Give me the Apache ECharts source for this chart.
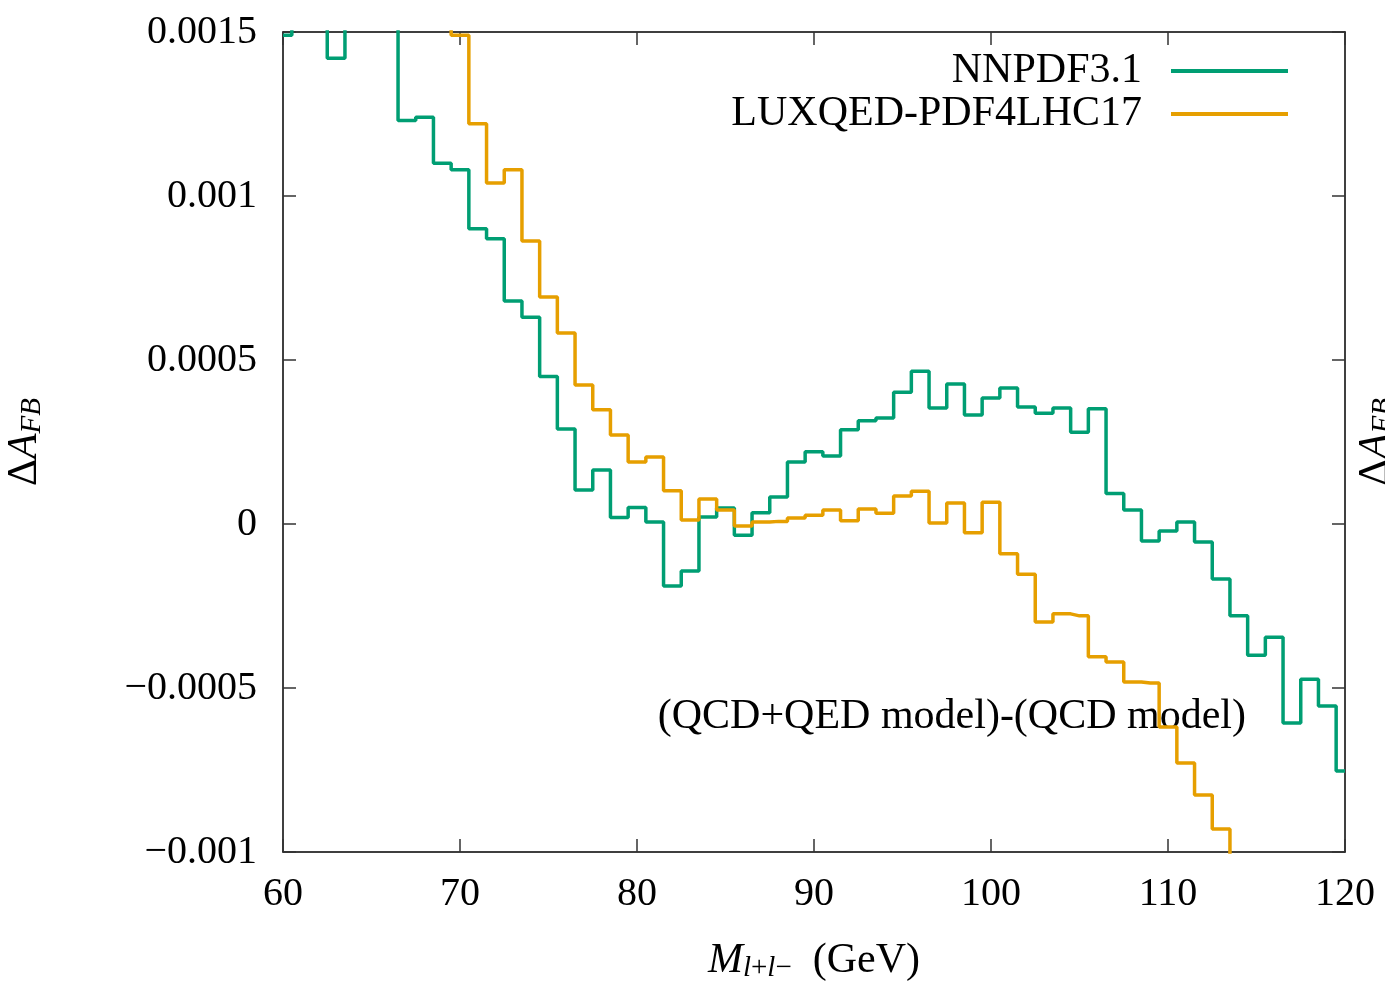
<!DOCTYPE html>
<html>
<head>
<meta charset="utf-8">
<script src="https://cdn.jsdelivr.net/npm/echarts@6/dist/echarts.min.js"></script>
<style>
html,body{margin:0;padding:0;background:#fff;}
#c{width:1385px;height:982px;}
</style>
</head>
<body>
<div id="c"></div>
<script>
// Bin centres (GeV), 1 GeV bins
const masses = [60,61,62,63,64,65,66,67,68,69,70,71,72,73,74,75,76,77,78,79,80,81,82,83,84,85,86,87,88,89,90,91,92,93,94,95,96,97,98,99,100,101,102,103,104,105,106,107,108,109,110,111,112,113,114,115,116,117,118,119,120];

const nnpdf = [0.00149,0.0016,0.0016,0.00142,0.0017,0.0017,0.0016,0.00123,0.00124,0.00110,
  0.00108,0.00090,0.00087,0.00068,0.00063,0.00045,0.00029,0.000104,0.000165,0.00002,
  0.00005,0.000006,-0.000189,-0.000143,0.000021,0.000049,-0.000034,0.000034,0.000082,0.000189,
  0.00022,0.000207,0.000287,0.000315,0.000323,0.000402,0.000466,0.000354,0.000427,0.000332,
  0.000384,0.000415,0.000357,0.000338,0.000354,0.00028,0.000351,0.000093,0.000043,-0.000052,
  -0.000021,0.000006,-0.000055,-0.000168,-0.00028,-0.0004,-0.000345,-0.000607,-0.000473,-0.000555,
  -0.000753];

const luxqed = [0.0022,0.0021,0.0021,0.0020,0.0019,0.0019,0.0018,0.0017,0.0017,0.0016,
  0.00149,0.00122,0.00104,0.00108,0.000863,0.000692,0.000582,0.000424,0.000348,0.000271,
  0.000189,0.000204,0.000101,0.000012,0.000076,0.000043,-0.000006,0.000006,0.000008,0.000018,
  0.000027,0.000043,0.000010,0.000046,0.000033,0.000085,0.0001,0.000003,0.000064,-0.000027,
  0.000066,-0.000091,-0.000153,-0.000299,-0.000274,-0.00028,-0.000405,-0.000421,-0.000482,-0.000485,
  -0.000619,-0.000729,-0.000826,-0.00093,-0.0011,-0.0012,-0.0013,-0.0014,-0.0015,-0.0016,
  -0.0017];

const seriesNames = ['NNPDF3.1','LUXQED-PDF4LHC17'];
const annotation = '(QCD+QED model)-(QCD model)';

const FONT = 'Liberation Serif';
const chart = echarts.init(document.getElementById('c'), null, {renderer:'canvas'});

function pairs(vals){ return masses.map((m,i)=>[m, vals[i]]); }
function yfmt(v){
  const s = +(+v).toFixed(5);
  if (s === 0) return '0';
  return s < 0 ? '\u2212' + String(-s) : String(s);
}

const axisLine = {show:true, onZero:false, lineStyle:{color:'#000', width:1.5}};
const tick = {show:true, inside:true, length:13, lineStyle:{color:'#333', width:1.5}};

const nameRich = {
  d:{fontFamily:FONT, fontSize:42, color:'#000'},
  a:{fontFamily:FONT, fontSize:42, fontStyle:'italic', color:'#000'},
  s:{fontFamily:FONT, fontSize:29, fontStyle:'italic', color:'#000', verticalAlign:'bottom', padding:[16,0,0,0]},
  u:{fontFamily:FONT, fontSize:29, color:'#000', verticalAlign:'bottom', padding:[16,0,0,0]},
  t:{fontFamily:FONT, fontSize:42, color:'#000'}
};

chart.setOption({
  animation:false,
  backgroundColor:'#fff',
  grid:{left:283, right:40, top:32, bottom:130, containLabel:false, outerBoundsMode:'none'},
  legend:[
    {data:[seriesNames[0]], right:92, top:45, orient:'horizontal', align:'right', icon:'rect',
     itemWidth:117, itemHeight:4, textStyle:{fontFamily:FONT, fontSize:42, color:'#000', padding:[0,24,0,0]}, selectedMode:false},
    {data:[seriesNames[1]], right:92, top:88, orient:'horizontal', align:'right', icon:'rect',
     itemWidth:117, itemHeight:4, textStyle:{fontFamily:FONT, fontSize:42, color:'#000', padding:[0,24,0,0]}, selectedMode:false}
  ],
  xAxis:[
    {type:'value', min:60, max:120, interval:10, position:'bottom',
     axisLine, axisTick:tick, splitLine:{show:false},
     axisLabel:{fontFamily:FONT, fontSize:40, color:'#000', margin:22},
     name:'{a|M}{s|l}{u|+}{s|l}{u|\u2212}{t|  (GeV)}', nameLocation:'middle', nameGap:86,
     nameTextStyle:{rich:nameRich}},
    {type:'value', min:60, max:120, interval:10, position:'top',
     axisLine, axisTick:tick, splitLine:{show:false}, axisLabel:{show:false}}
  ],
  yAxis:[
    {type:'value', min:-0.001, max:0.0015, interval:0.0005, position:'left',
     axisLine, axisTick:tick, splitLine:{show:false},
     axisLabel:{fontFamily:FONT, fontSize:40, color:'#000', margin:26, formatter:yfmt},
     name:'{d|\u0394}{a|A}{s|FB}', nameLocation:'middle', nameRotate:90, nameGap:236,
     nameTextStyle:{rich:nameRich}},
    {type:'value', min:-0.001, max:0.0015, interval:0.0005, position:'right',
     axisLine, axisTick:tick, splitLine:{show:false}, axisLabel:{show:false},
     name:'{d|\u0394}{a|A}{s|FB}', nameLocation:'middle', nameRotate:90, nameGap:8,
     nameTextStyle:{rich:nameRich}}
  ],
  graphic:[
    {type:'text', right:139, top:696, z:-1, style:{text:annotation, font:'42px "Liberation Serif"', fill:'#000'}}
  ],
  series:[
    {name:seriesNames[0], type:'line', step:'middle', data:pairs(nnpdf), xAxisIndex:0, yAxisIndex:0,
     symbol:'none', showSymbol:false, clip:true, lineStyle:{color:'#009E73', width:3.5}, itemStyle:{color:'#009E73'}, z:3},
    {name:seriesNames[1], type:'line', step:'middle', data:pairs(luxqed), xAxisIndex:0, yAxisIndex:0,
     symbol:'none', showSymbol:false, clip:true, lineStyle:{color:'#E69F00', width:3.5}, itemStyle:{color:'#E69F00'}, z:4}
  ]
});
</script>
</body>
</html>
